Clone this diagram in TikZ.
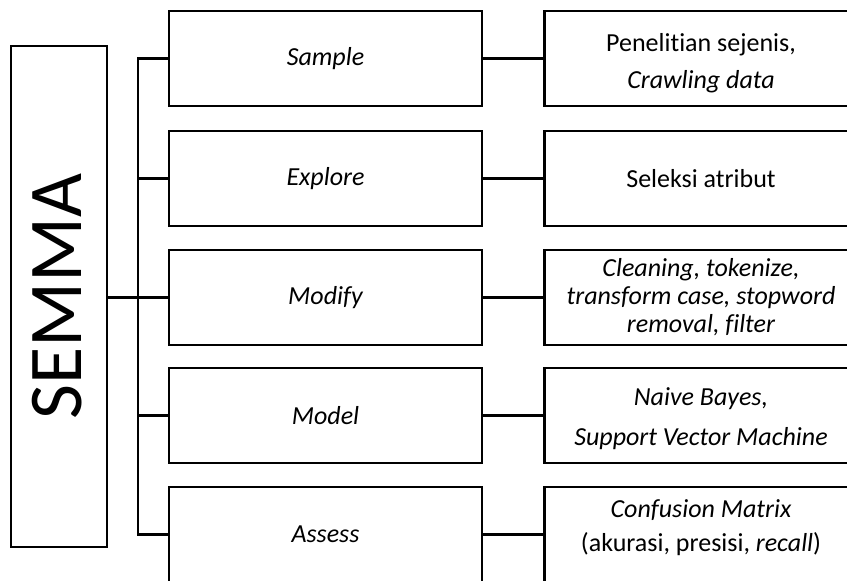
\documentclass[tikz,border=0pt]{standalone}
\usepackage{fontspec}
\setmainfont{Carlito}[Ligatures=NoCommon]
\begin{document}
\begin{tikzpicture}[x=0.75pt,y=-0.75pt,
  box/.style={draw=black,line width=1.6pt,minimum width=234.75pt,minimum height=71.25pt,inner sep=0pt,align=center,font=\fontsize{19.5}{21}\selectfont},
  txt/.style={inner sep=0pt,align=center,font=\fontsize{19.5}{#1}\selectfont},
  conn/.style={line width=1.6pt}]
\useasboundingbox (0,0) rectangle (847,581);
\clip (0,0) rectangle (847,581);
% SEMMA box
\node[draw=black,line width=1.6pt,minimum width=72pt,minimum height=375.75pt,inner sep=0pt] (semma) at (59,296.5) {};
\node[rotate=90,font=\fontsize{57}{60}\selectfont] (semmatxt) at (57,296.5) {SEMMA};
% middle boxes
\node[box] (sample)  at (325.5,58.5)  {\itshape Sample};
\node[box] (explore) at (325.5,178.5) {\itshape Explore};
\node[box] (modify)  at (325.5,297.5) {\itshape Modify};
\node[box] (model)   at (325.5,415.5) {\itshape Model};
\node[box] (assess)  at (325.5,534.5) {\itshape Assess};
% right boxes
\node[box] (rsample)  at (701,58.5)  {};
\node[txt=28] (tsample) at ([yshift=-3.75pt]rsample.center) {Penelitian sejenis,\\\textit{Crawling data}};
\node[box] (rexplore) at (701,178.5) {Seleksi atribut};
\node[box] (rmodify)  at (701,297.5) {\itshape Cleaning, tokenize,\\\itshape transform case, stopword\\\itshape removal, filter};
\node[box] (rmodel)   at (701,415.5) {};
\node[txt=30] (tmodel) at ([yshift=-2.6pt]rmodel.center) {\itshape Naive Bayes,\\\itshape Support Vector Machine};
\node[box] (rassess)  at (701,534.5) {};
\node[txt=25.5] (tassess) at ([yshift=5.25pt]rassess.center) {\itshape Confusion Matrix\\(akurasi, presisi, \textit{recall})};
% bus
\coordinate (bus) at (138,58.5);
\draw[conn] (sample.west) -- (sample.west -| bus) |- (assess.west);
\draw[conn] (explore.west) -- (explore.west -| bus);
\draw[conn] (modify.west) -- (modify.west -| bus);
\draw[conn] (model.west) -- (model.west -| bus);
\draw[conn] (semma.east |- modify.west) -- (modify.west -| bus);
% right connectors
\draw[conn] (sample.east) -- (rsample.west);
\draw[conn] (explore.east) -- (rexplore.west);
\draw[conn] (modify.east) -- (rmodify.west);
\draw[conn] (model.east) -- (rmodel.west);
\draw[conn] (assess.east) -- (rassess.west);
\end{tikzpicture}
\end{document}
